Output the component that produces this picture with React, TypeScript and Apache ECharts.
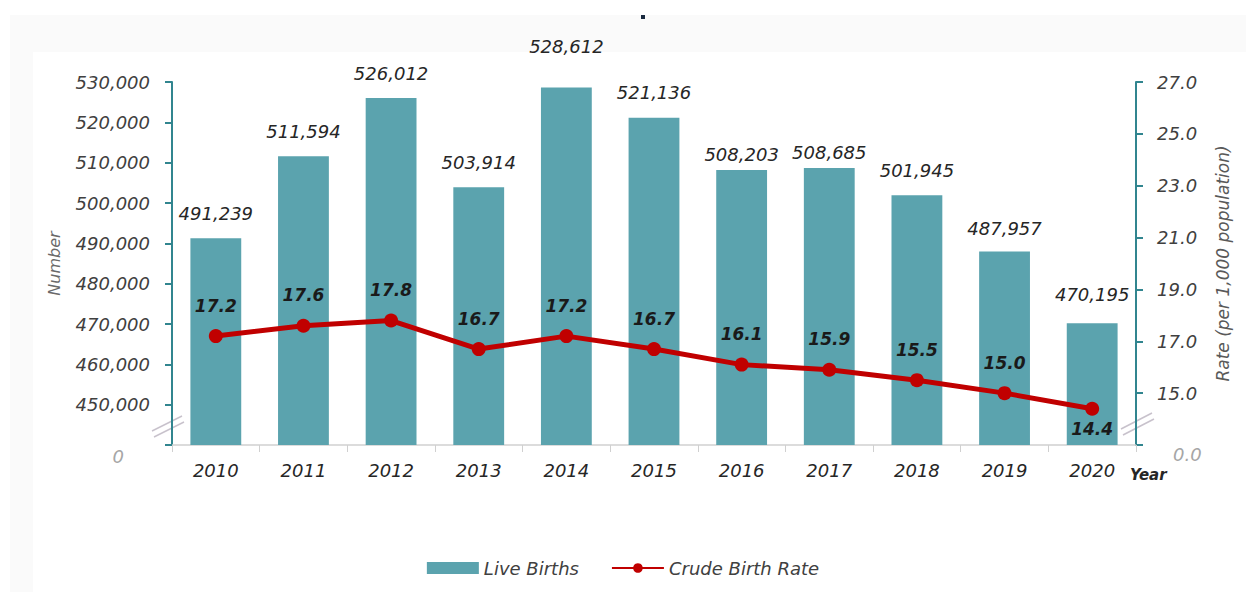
import React, { useEffect, useRef } from "react";
import * as echarts from "echarts";

const years = ["2010", "2011", "2012", "2013", "2014", "2015", "2016", "2017", "2018", "2019", "2020"];
const liveBirths = [491239, 511594, 526012, 503914, 528612, 521136, 508203, 508685, 501945, 487957, 470195];
const crudeBirthRate = [17.2, 17.6, 17.8, 16.7, 17.2, 16.7, 16.1, 15.9, 15.5, 15.0, 14.4];
const labelBelowIndex = [10];

const FONT = "DejaVu Sans";
const TEAL = "#5BA3AE";
const AXIS_TEAL = "#31858F";
const RED = "#C00000";
const BREAK = "#C8C2CC";

// label distance tweaks to mimic the manually placed labels of the source
const barLabelDistance = [16, 16, 16, 16, 32, 16, 6, 6, 16, 14, 20];

export default function App() {
  const ref = useRef<HTMLDivElement>(null);
  useEffect(() => {
    if (!ref.current) return;
    const chart = echarts.init(ref.current, undefined, { renderer: "svg" });
    const rateData = crudeBirthRate.map((v, i) =>
      labelBelowIndex.includes(i)
        ? { value: v, label: { position: "bottom", distance: 5 } }
        : v
    );
    const barData = liveBirths.map((v, i) => ({ value: v, label: { distance: barLabelDistance[i] } }));
    chart.setOption({
      animation: false,
      backgroundColor: "#ffffff",
      textStyle: { fontFamily: FONT },
      grid: { left: 172, right: 110, top: 82, bottom: 147, outerBoundsMode: "none", containLabel: false },
      legend: {
        bottom: 10,
        left: "center",
        itemWidth: 52,
        itemHeight: 12,
        itemGap: 32,
        textStyle: { fontFamily: FONT, fontStyle: "italic", fontSize: 18, color: "#404040" },
        data: [
          { name: "Live Births", icon: "rect" },
          { name: "Crude Birth Rate" },
        ],
      },
      xAxis: {
        type: "category",
        data: years,
        name: "Year",
        nameLocation: "end",
        nameGap: -6,
        nameTextStyle: {
          fontFamily: FONT,
          fontStyle: "italic",
          fontWeight: "bold",
          fontSize: 15,
          color: "#262626",
          verticalAlign: "top",
          padding: [22, 0, 0, 0],
        },
        axisLine: { lineStyle: { color: "#D0D0D0", width: 1.5 } },
        axisTick: { show: true, length: 7, lineStyle: { color: "#D0D0D0" } },
        axisLabel: { fontFamily: FONT, fontStyle: "italic", fontSize: 18, color: "#262626", margin: 16 },
      },
      yAxis: [
        {
          type: "value",
          min: 440000,
          max: 530000,
          interval: 10000,
          name: "Number",
          nameLocation: "middle",
          nameRotate: 90,
          nameGap: 110,
          nameTextStyle: { fontFamily: FONT, fontStyle: "italic", fontSize: 16, color: "#6A6A6A" },
          axisLine: { show: true, lineStyle: { color: AXIS_TEAL, width: 2 } },
          axisTick: { show: true, length: 7, lineStyle: { color: AXIS_TEAL, width: 2 } },
          splitLine: { show: false },
          axisLabel: {
            fontFamily: FONT,
            fontStyle: "italic",
            fontSize: 18,
            color: "#404040",
            margin: 22,
            formatter: (v: number) => (v === 440000 ? "{z|0}" : v.toLocaleString("en-US")),
            rich: {
              z: { fontFamily: FONT, fontSize: 18, color: "#A6A6A6", padding: [22, 26, 0, 0] },
            },
          },
        },
        {
          type: "value",
          min: 13,
          max: 27,
          interval: 2,
          name: "Rate (per 1,000 population)",
          nameLocation: "middle",
          nameRotate: 90,
          nameGap: 78,
          nameTextStyle: { fontFamily: FONT, fontStyle: "italic", fontSize: 17, color: "#595959" },
          axisLine: { show: true, lineStyle: { color: AXIS_TEAL, width: 2 } },
          axisTick: { show: true, length: 7, lineStyle: { color: AXIS_TEAL, width: 2 } },
          splitLine: { show: false },
          axisLabel: {
            fontFamily: FONT,
            fontStyle: "italic",
            fontSize: 18,
            color: "#404040",
            margin: 21,
            formatter: (v: number) => (v === 13 ? "{z|0.0}" : v.toFixed(1)),
            rich: {
              z: { fontFamily: FONT, fontSize: 18, color: "#A6A6A6", padding: [18, 0, 0, 16] },
            },
          },
        },
      ],
      series: [
        {
          name: "Live Births",
          type: "bar",
          yAxisIndex: 0,
          data: barData,
          barWidth: "58%",
          itemStyle: { color: TEAL },
          label: {
            show: true,
            position: "top",
            distance: 16,
            fontFamily: FONT,
            fontStyle: "italic",
            fontSize: 18,
            color: "#262626",
            formatter: (p: any) => Number(p.value).toLocaleString("en-US"),
          },
        },
        {
          name: "Crude Birth Rate",
          type: "line",
          yAxisIndex: 1,
          data: rateData,
          symbol: "circle",
          symbolSize: 14,
          lineStyle: { color: RED, width: 5 },
          itemStyle: { color: RED },
          label: {
            show: true,
            position: "top",
            distance: 15,
            fontFamily: FONT,
            fontStyle: "italic",
            fontWeight: "bold",
            fontSize: 17,
            color: "#1A1A1A",
            formatter: (p: any) => Number(p.value).toFixed(1),
          },
        },
      ],
      graphic: [
        { type: "rect", silent: true, z: -10, shape: { x: 10, y: 15, width: 1236, height: 37 }, style: { fill: "#FAFAFA" } },
        { type: "rect", silent: true, z: -10, shape: { x: 10, y: 52, width: 23, height: 540 }, style: { fill: "#FAFAFA" } },
        { type: "rect", silent: true, shape: { x: 641, y: 15, width: 4, height: 4 }, style: { fill: "#1A2A40" } },
        { type: "line", silent: true, shape: { x1: 152, y1: 431, x2: 182, y2: 416 }, style: { stroke: BREAK, lineWidth: 1.5 } },
        { type: "line", silent: true, shape: { x1: 154, y1: 437, x2: 184, y2: 422 }, style: { stroke: BREAK, lineWidth: 1.5 } },
        { type: "line", silent: true, shape: { x1: 1121, y1: 429, x2: 1152, y2: 413 }, style: { stroke: BREAK, lineWidth: 1.5 } },
        { type: "line", silent: true, shape: { x1: 1123, y1: 435, x2: 1154, y2: 419 }, style: { stroke: BREAK, lineWidth: 1.5 } },
      ],
    });
    return () => chart.dispose();
  }, []);
  return (
    <div
      ref={ref}
      style={{ position: "absolute", left: 0, top: 0, width: 1246, height: 592 }}
    />
  );
}
